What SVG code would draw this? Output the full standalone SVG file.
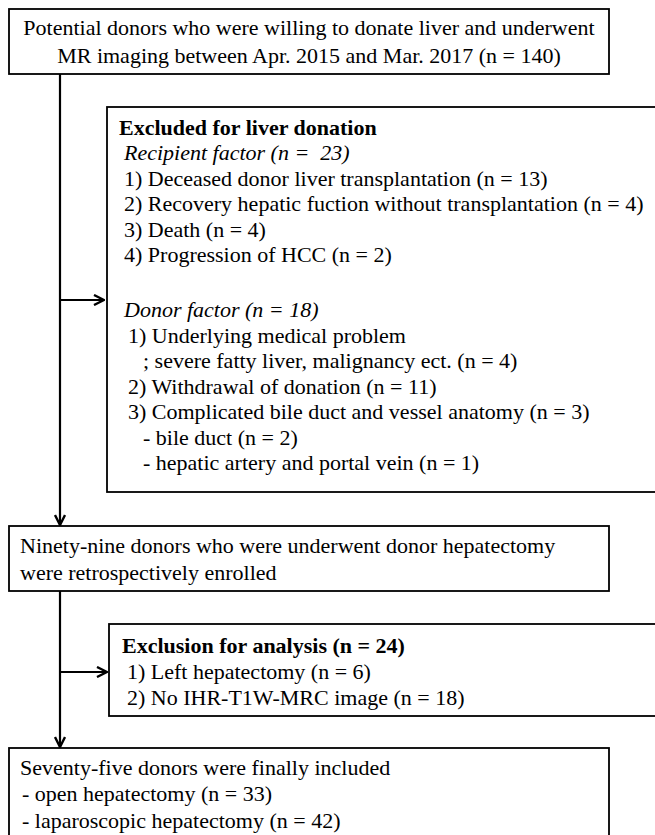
<svg xmlns="http://www.w3.org/2000/svg" width="655" height="835" viewBox="0 0 655 835">
<style>
.box{fill:#fff;stroke:#000;stroke-width:1.8}
text{font-family:"Liberation Serif","Times New Roman",serif;font-size:22px;fill:#000}
.b{font-weight:bold}
.i{font-style:italic}
.c{text-anchor:middle}
.conn{stroke:#000;stroke-width:2.2;fill:none}
</style>
<defs>
<marker id="ah" viewBox="0 0 12 12" refX="11" refY="6" markerWidth="12" markerHeight="12" markerUnits="userSpaceOnUse" orient="auto">
<path d="M1,1 L11,6 L1,11" fill="none" stroke="#000" stroke-width="2.4"/>
</marker>
</defs>
<rect width="655" height="835" fill="#fff"/>
<g id="connectors">
<line class="conn" x1="60" y1="74" x2="60" y2="525" marker-end="url(#ah)"/>
<line class="conn" x1="60" y1="300" x2="104" y2="300" marker-end="url(#ah)"/>
<line class="conn" x1="60" y1="591" x2="60" y2="747" marker-end="url(#ah)"/>
<line class="conn" x1="60" y1="672" x2="107" y2="672" marker-end="url(#ah)"/>
</g>
<g id="n1">
<rect class="box" x="9" y="9" width="600" height="65"/>
<text class="c" x="309" y="35">Potential donors who were willing to donate liver and underwent</text>
<text class="c" x="309" y="63">MR imaging between Apr. 2015 and Mar. 2017 (n = 140)</text>
</g>
<g id="n2">
<rect class="box" x="107" y="107" width="560" height="385"/>
<text class="b" x="119" y="135">Excluded for liver donation</text>
<text class="i" x="124" y="160" xml:space="preserve">Recipient factor (n =  23)</text>
<text x="124" y="186">1) Deceased donor liver transplantation (n = 13)</text>
<text x="124" y="211">2) Recovery hepatic fuction without transplantation (n = 4)</text>
<text x="124" y="237">3) Death (n = 4)</text>
<text x="124" y="262">4) Progression of HCC (n = 2)</text>
<text class="i" x="124" y="317">Donor factor (n = 18)</text>
<text x="128" y="343">1) Underlying medical problem</text>
<text x="143" y="368">; severe fatty liver, malignancy ect. (n = 4)</text>
<text x="128" y="394">2) Withdrawal of donation (n = 11)</text>
<text x="128" y="419">3) Complicated bile duct and vessel anatomy (n = 3)</text>
<text x="143" y="445">- bile duct (n = 2)</text>
<text x="143" y="470">- hepatic artery and portal vein (n = 1)</text>
</g>
<g id="n3">
<rect class="box" x="9" y="526" width="600" height="65"/>
<text x="20" y="553">Ninety-nine donors who were underwent donor hepatectomy</text>
<text x="20" y="580">were retrospectively enrolled</text>
</g>
<g id="n4">
<rect class="box" x="109" y="624" width="560" height="92"/>
<text class="b" x="122" y="653">Exclusion for analysis (n = 24)</text>
<text x="127" y="679">1) Left hepatectomy (n = 6)</text>
<text x="127" y="705">2) No IHR-T1W-MRC image (n = 18)</text>
</g>
<g id="n5">
<rect class="box" x="9" y="748" width="600" height="100"/>
<text x="20" y="775">Seventy-five donors were finally included</text>
<text x="22" y="801">- open hepatectomy (n = 33)</text>
<text x="22" y="828">- laparoscopic hepatectomy (n = 42)</text>
</g>
</svg>
